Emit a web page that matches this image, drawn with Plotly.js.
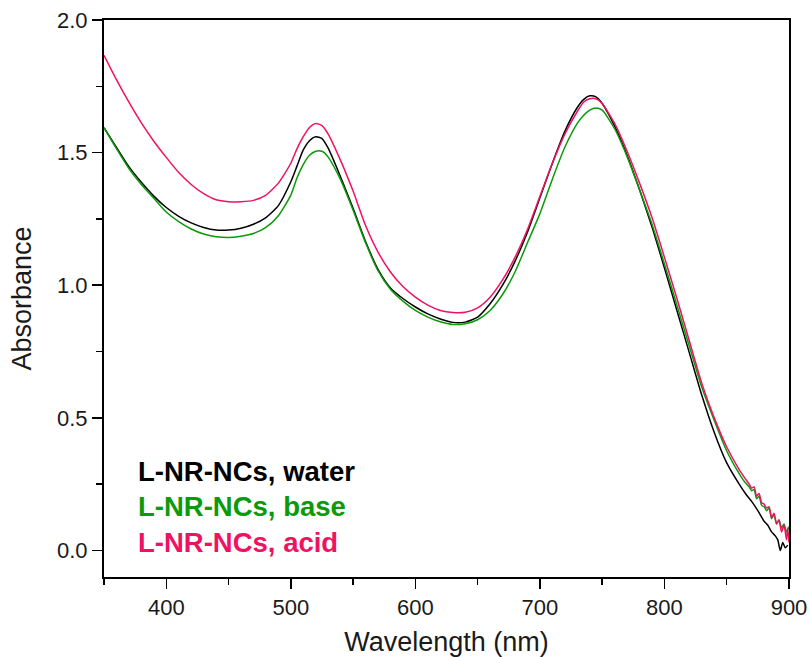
<!DOCTYPE html>
<html>
<head>
<meta charset="utf-8">
<script src="https://cdn.plot.ly/plotly-3.0.1.min.js"></script>
<style>
html,body{margin:0;padding:0;background:#fff;}
#chart{width:810px;height:657px;}
</style>
</head>
<body>
<div id="chart"></div>
<script>
// Wavelength grid (nm) shared by the three spectra
const wavelength = [350,360,370,380,390,400,410,420,430,440,450,460,470,480,490,500,505,510,515,520,525,530,540,550,560,570,580,590,600,610,620,630,640,650,660,670,680,690,700,710,720,730,735,740,745,750,760,770,780,790,800,810,820,830,840,850,860];

const waterAbs = [1.594,1.520,1.447,1.388,1.336,1.293,1.260,1.235,1.218,1.208,1.208,1.215,1.230,1.255,1.300,1.390,1.450,1.510,1.545,1.560,1.553,1.517,1.408,1.290,1.165,1.060,0.990,0.950,0.918,0.892,0.873,0.860,0.861,0.880,0.930,1.000,1.090,1.200,1.330,1.460,1.580,1.670,1.700,1.714,1.710,1.685,1.600,1.490,1.360,1.220,1.065,0.905,0.745,0.585,0.445,0.330,0.250];
const baseAbs = [1.594,1.515,1.440,1.380,1.328,1.276,1.240,1.212,1.193,1.183,1.180,1.185,1.195,1.218,1.262,1.340,1.405,1.455,1.490,1.505,1.505,1.483,1.397,1.283,1.160,1.055,0.985,0.940,0.905,0.880,0.862,0.852,0.855,0.870,0.905,0.965,1.050,1.160,1.270,1.400,1.520,1.610,1.640,1.660,1.668,1.660,1.590,1.485,1.360,1.230,1.080,0.925,0.770,0.615,0.490,0.375,0.290];
const acidAbs = [1.867,1.775,1.690,1.612,1.543,1.482,1.425,1.380,1.345,1.322,1.315,1.315,1.320,1.340,1.385,1.460,1.515,1.560,1.595,1.610,1.602,1.570,1.470,1.355,1.225,1.125,1.050,0.995,0.955,0.925,0.905,0.897,0.898,0.915,0.955,1.020,1.105,1.210,1.335,1.460,1.570,1.655,1.690,1.703,1.703,1.685,1.610,1.505,1.385,1.255,1.105,0.950,0.790,0.630,0.500,0.390,0.305];

// Noisy long-wavelength tails
const waterTailWl  = [865,870,875,880,883,886,889,891,893,895,897,899];
const waterTailAbs = [0.215,0.185,0.150,0.110,0.095,0.070,0.055,0.040,0.000,0.030,0.010,0.020];
const baseTailWl   = [865,868,870,872,874,876,878,880,882,884,886,888,890,892,894,896,898,900];
const baseTailAbs  = [0.255,0.240,0.225,0.230,0.195,0.205,0.170,0.165,0.150,0.160,0.120,0.135,0.100,0.115,0.085,0.100,0.070,0.090];
const acidTailWl   = [865,868,870,872,874,876,878,880,882,884,886,888,890,892,894,896,898,899,900];
const acidTailAbs  = [0.270,0.250,0.235,0.240,0.205,0.215,0.180,0.175,0.160,0.165,0.125,0.140,0.100,0.115,0.070,0.095,0.040,0.085,0.030];

const seriesNames = ["L-NR-NCs, water","L-NR-NCs, base","L-NR-NCs, acid"];
const seriesColors = ["#000000","#0a9a0a","#ee1262"];

const xs = [wavelength.concat(waterTailWl), wavelength.concat(baseTailWl), wavelength.concat(acidTailWl)];
const ys = [waterAbs.concat(waterTailAbs), baseAbs.concat(baseTailAbs), acidAbs.concat(acidTailAbs)];

const traces = seriesNames.map((n,i)=>({
  type:'scatter', mode:'lines', name:n, x:xs[i], y:ys[i],
  line:{color:seriesColors[i], width:1.5, shape:'spline', smoothing:0.6},
  showlegend:false, hoverinfo:'skip'
}));

const legendY = [0.298, 0.166, 0.030];
const annotations = seriesNames.map((n,i)=>({
  xref:'x', yref:'y', x:375.5, y:legendY[i], xanchor:'left', yanchor:'middle',
  text:'<b>'+n+'</b>', showarrow:false,
  font:{family:'Liberation Sans, Arial, sans-serif', size:27.5, color:seriesColors[i]}
}));

const tickFont = {family:'Liberation Sans, Arial, sans-serif', size:22, color:'#1a1a1a'};
const layout = {
  width:810, height:657,
  margin:{l:104, r:21, t:20, b:80},
  paper_bgcolor:'#ffffff', plot_bgcolor:'#ffffff',
  xaxis:{
    range:[350,900], dtick:100, tick0:0,
    showgrid:false, zeroline:false,
    showline:true, linecolor:'#000', linewidth:2, mirror:true,
    ticks:'outside', ticklen:10, tickwidth:1.5, tickcolor:'#000',
    minor:{ticks:'outside', dtick:50, tick0:0, ticklen:6, tickwidth:1.5, tickcolor:'#000', showgrid:false},
    tickfont:tickFont,
    title:{text:'Wavelength (nm)', font:{family:'Liberation Sans, Arial, sans-serif', size:27, color:'#1a1a1a'}, standoff:14}
  },
  yaxis:{
    range:[-0.1,2.0], dtick:0.5, tick0:0, tickformat:'.1f',
    showgrid:false, zeroline:false,
    showline:true, linecolor:'#000', linewidth:2, mirror:true,
    ticks:'outside', ticklen:10, tickwidth:1.5, tickcolor:'#000',
    minor:{ticks:'outside', dtick:0.25, tick0:0, ticklen:6, tickwidth:1.5, tickcolor:'#000', showgrid:false},
    tickfont:tickFont, ticklabelstandoff:0,
    title:{text:'Absorbance', font:{family:'Liberation Sans, Arial, sans-serif', size:27, color:'#1a1a1a'}, standoff:18}
  },
  annotations:annotations
};

Plotly.newPlot('chart', traces, layout, {displayModeBar:false, staticPlot:true});
</script>
</body>
</html>
